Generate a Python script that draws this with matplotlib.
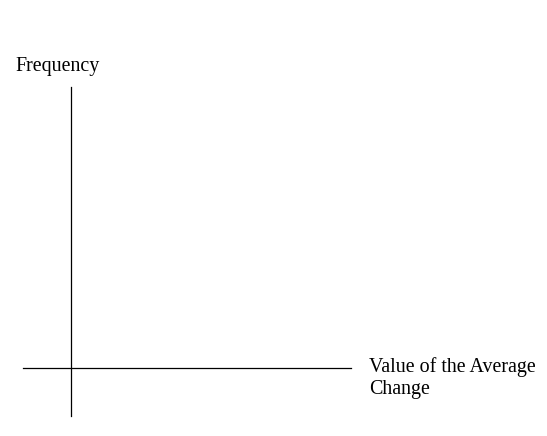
import matplotlib
matplotlib.use("Agg")
import matplotlib.pyplot as plt

y_label = "Frequency"
x_label = "Value of the Average\nChange"

W, H = 547, 436
fig = plt.figure(figsize=(W/100, H/100), dpi=100)
ax = fig.add_axes([0, 0, 1, 1])
ax.set_xlim(0, W)
ax.set_ylim(H, 0)
ax.axis("off")

ax.plot([71, 71], [87, 416], color="black", lw=0.9)
ax.plot([23, 351], [368, 368], color="black", lw=0.9)
ax.text(15, 67, y_label, fontsize=14.4, family="Liberation Serif", va="center", ha="left")
ax.text(369, 378, x_label, fontsize=14.4, family="Liberation Serif", va="center", ha="left",
        linespacing=1.15)

fig.savefig("out.png", dpi=100)
